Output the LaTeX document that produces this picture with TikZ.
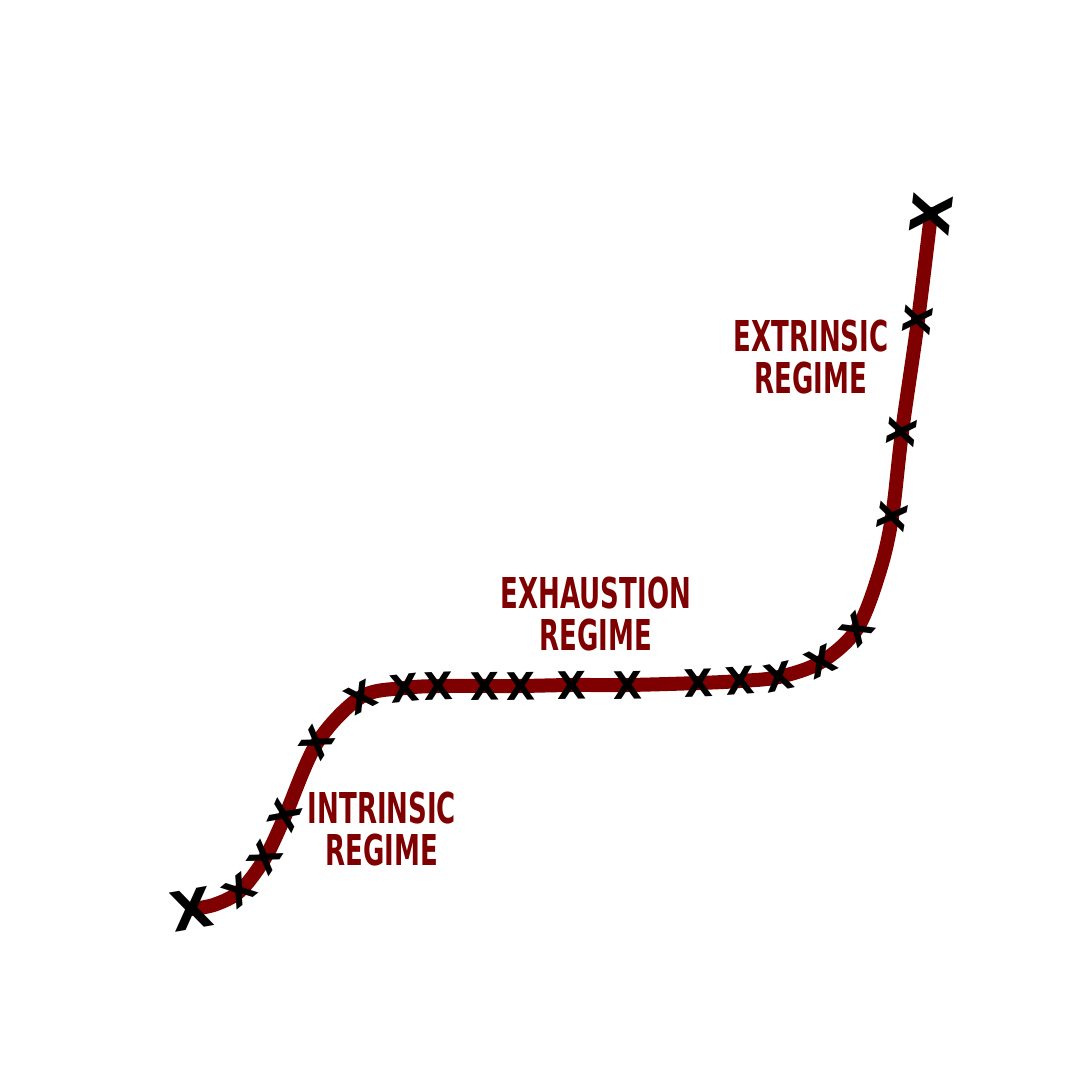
\documentclass[tikz,border=0pt]{standalone}
\usepackage{fontspec}
\setmainfont{DejaVu Sans}
\newfontfamily\regimefont[FakeStretch=0.68]{DejaVu Sans Condensed}
\usetikzlibrary{positioning}
\usetikzlibrary{calc}
\definecolor{maroonred}{HTML}{7F0000}

\begin{document}
\begin{tikzpicture}[
    curve/.style={draw=maroonred, line width=0.14cm, line cap=round},
    xmark/.style={inner sep=0, text=black, font=\bfseries\fontsize{10.8}{12}\selectfont},
    bigxmark/.style={xmark, font=\bfseries\fontsize{15.5}{16}\selectfont},
    regime/.style={text=maroonred, align=center, inner sep=0,
        font=\regimefont\bfseries\fontsize{12.1}{12.2}\selectfont}
    ]
        \useasboundingbox (0,0) rectangle (10.8,10.8);

        \coordinate (p1) at (1.92,1.71);
        \coordinate (c1) at (2.15,1.755);
        \coordinate (p2) at (2.40,1.89);
        \coordinate (p3) at (2.65,2.22);
        \coordinate (p4) at (2.85,2.64);
        \coordinate (p5) at (3.17,3.37);
        \coordinate (p6) at (3.61,3.83);
        \coordinate (p7) at (4.05,3.92);
        \coordinate (p8) at (4.39,3.94);
        \coordinate (p9) at (4.85,3.94);
        \coordinate (p10) at (5.21,3.94);
        \coordinate (p11) at (5.72,3.95);
        \coordinate (p12) at (6.28,3.95);
        \coordinate (p13) at (6.99,3.97);
        \coordinate (p14) at (7.40,3.99);
        \coordinate (p15) at (7.79,4.03);
        \coordinate (p16) at (8.21,4.18);
        \coordinate (p17) at (8.57,4.51);
        \coordinate (c17) at (8.795,5.08);
        \coordinate (p18) at (8.92,5.63);
        \coordinate (p19) at (9.02,6.48);
        \coordinate (p20) at (9.18,7.60);
        \coordinate (p21) at (9.31,8.66);

        \draw[curve] plot[smooth, tension=0.55] coordinates {(p1) (c1) (p2) (p3) (p4) (p5) (p6) (p7) (p8) (p9) (p10) (p11) (p12) (p13) (p14) (p15) (p16) (p17) (c17) (p18) (p19) (p20) (p21)};

        % marks turned along the curve
        \node[bigxmark, rotate=10] (m1) at (p1) {X};
        \foreach \p/\a in {2/38, 3/57, 4/66, 5/57, 6/28, 7/6, 8/2, 9/1, 10/1, 11/1, 12/1, 13/2, 14/4, 15/12, 16/25, 17/48, 18/80, 19/82, 20/82}
            \node[xmark, rotate=\a] (m\p) at (p\p) {X};
        \node[bigxmark, rotate=83] (m21) at (p21) {X};

        \node[regime] (intrinsic) at (3.82,2.51) {INTRINSIC\\REGIME};
        \node[regime] (exhaustion) at (5.96,4.66) {EXHAUSTION\\REGIME};
        \node[regime] (extrinsic) at (8.11,7.23) {EXTRINSIC\\REGIME};
    \end{tikzpicture}
\end{document}
